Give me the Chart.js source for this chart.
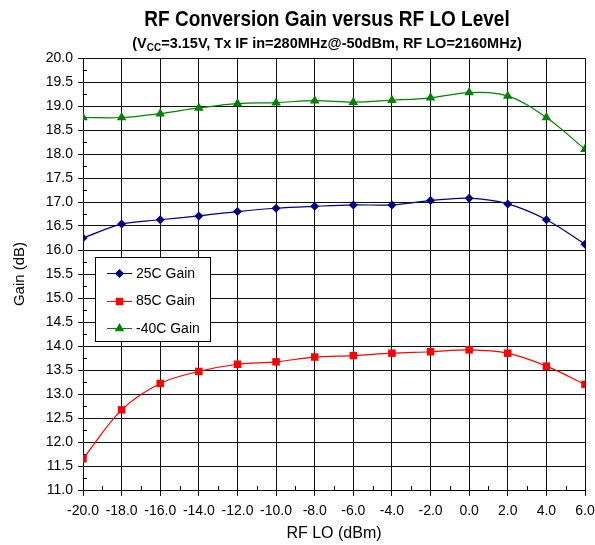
<!DOCTYPE html>
<html>
<head>
<meta charset="utf-8">
<script src="https://cdn.jsdelivr.net/npm/chart.js"></script>
<style>
  html,body{margin:0;padding:0;background:#fff;}
  #wrap{width:595px;height:545px;}
</style>
</head>
<body>
<div id="wrap"><canvas id="c" width="595" height="545"></canvas></div>
<script>
// RF conversion gain vs RF LO level, three temperatures
const rfLo = [-20, -18, -16, -14, -12, -10, -8, -6, -4, -2, 0, 2, 4, 6];
const gain25 = [16.25, 16.54, 16.63, 16.71, 16.80, 16.87, 16.91, 16.94, 16.94, 17.03, 17.08, 16.96, 16.63, 16.12];
const gain85 = [11.65, 12.67, 13.22, 13.47, 13.62, 13.67, 13.77, 13.80, 13.85, 13.88, 13.92, 13.85, 13.58, 13.20];
const gainM40 = [18.76, 18.76, 18.84, 18.96, 19.05, 19.07, 19.11, 19.08, 19.12, 19.17, 19.28, 19.21, 18.76, 18.10];
const seriesNames = ['25C Gain', '85C Gain', '-40C Gain'];
const seriesColors = ['#000080', '#ff0000', '#008000'];
const seriesMarkers = ['rectRot', 'rect', 'triangle'];
const markerRadius = [4.5, 5.3, 5.5];

const titleText = 'RF Conversion Gain versus RF LO Level';
const subPre = '(V', subSub = 'CC', subPost = '=3.15V, Tx IF in=280MHz@-50dBm, RF LO=2160MHz)';
const xTitle = 'RF LO (dBm)';
const yTitle = 'Gain (dB)';

const FONT = '"Liberation Sans", Arial, sans-serif';

function drawMarker(ctx, type, x, y, color){
  ctx.fillStyle = color;
  ctx.beginPath();
  if (type === 'rectRot'){ const r = 4.5; ctx.moveTo(x, y - r); ctx.lineTo(x + r, y); ctx.lineTo(x, y + r); ctx.lineTo(x - r, y); }
  else if (type === 'rect'){ ctx.rect(x - 3.75, y - 3.75, 7.5, 7.5); }
  else { const r = 5.5; ctx.moveTo(x, y - r); ctx.lineTo(x + r * 0.866, y + r * 0.5); ctx.lineTo(x - r * 0.866, y + r * 0.5); }
  ctx.closePath(); ctx.fill();
}

const decor = {
  id: 'decor',
  beforeDatasetsDraw(chart){
    // minor tick marks inside the plot
    const ctx = chart.ctx, xs = chart.scales.x, ys = chart.scales.y, a = chart.chartArea;
    ctx.save(); ctx.strokeStyle = '#000'; ctx.lineWidth = 1;
    ctx.beginPath();
    for (let v = -19; v < 6; v += 2){ const px = Math.round(xs.getPixelForValue(v)) + 0.5; ctx.moveTo(px, a.bottom); ctx.lineTo(px, a.bottom - 4); }
    for (let v = 11.25; v < 20; v += 0.5){ const py = Math.round(ys.getPixelForValue(v)) + 0.5; ctx.moveTo(a.left, py); ctx.lineTo(a.left + 4, py); }
    ctx.stroke(); ctx.restore();
  },
  afterDraw(chart){
    const ctx = chart.ctx, a = chart.chartArea;
    const cx = 327;
    ctx.save();
    ctx.fillStyle = '#000';
    ctx.textBaseline = 'alphabetic';

    // title
    ctx.font = 'bold 19px ' + FONT; ctx.textAlign = 'center';
    ctx.save(); ctx.translate(cx, 26); ctx.scale(1, 1.15); ctx.fillText(titleText, 0, 0); ctx.restore();

    // subtitle with subscript
    ctx.textAlign = 'left';
    const fMain = 'bold 14.5px ' + FONT, fSub = 'bold 10px ' + FONT;
    ctx.font = fMain; const w1 = ctx.measureText(subPre).width, w3 = ctx.measureText(subPost).width;
    ctx.font = fSub; const w2 = ctx.measureText(subSub).width;
    let sx = cx - (w1 + w2 + w3) / 2;
    ctx.save(); ctx.translate(0, 48); ctx.scale(1, 1.05);
    ctx.font = fMain; ctx.fillText(subPre, sx, 0); sx += w1;
    ctx.font = fSub; ctx.fillText(subSub, sx, 2.5); sx += w2;
    ctx.font = fMain; ctx.fillText(subPost, sx, 0);
    ctx.restore();

    // axis titles
    ctx.font = '16px ' + FONT; ctx.textAlign = 'center'; ctx.textBaseline = 'middle';
    ctx.fillText(xTitle, (a.left + a.right) / 2, 534);
    ctx.save(); ctx.translate(20, 274); ctx.rotate(-Math.PI / 2); ctx.font = '15px ' + FONT; ctx.fillText(yTitle, 0, 0); ctx.restore();

    // legend box
    const lx = 95.5, ly = 257.5, lw = 115, lh = 84;
    ctx.fillStyle = '#fff'; ctx.fillRect(lx, ly, lw, lh);
    ctx.strokeStyle = '#000'; ctx.lineWidth = 1; ctx.strokeRect(lx, ly, lw, lh);
    ctx.font = '14px ' + FONT; ctx.textAlign = 'left'; ctx.textBaseline = 'middle';
    seriesNames.forEach((name, i) => {
      const y = 273 + i * 27.5;
      ctx.strokeStyle = seriesColors[i]; ctx.lineWidth = 1;
      ctx.beginPath(); ctx.moveTo(107, Math.round(y) + 0.5); ctx.lineTo(132, Math.round(y) + 0.5); ctx.stroke();
      drawMarker(ctx, seriesMarkers[i], 119.5, Math.round(y) + 0.5, seriesColors[i]);
      ctx.fillStyle = '#000'; ctx.fillText(name, 136, y + 1);
    });
    ctx.restore();
  }
};

const seriesData = [gain25, gain85, gainM40];
const datasets = seriesData.map((vals, i) => ({
  label: seriesNames[i],
  data: rfLo.map((x, j) => ({ x: x, y: vals[j] })),
  borderColor: seriesColors[i],
  backgroundColor: seriesColors[i],
  borderWidth: 1.2,
  pointStyle: seriesMarkers[i],
  pointRadius: markerRadius[i],
  pointBorderWidth: 0,
  pointBackgroundColor: seriesColors[i],
  tension: 0.35,
  fill: false
}));

new Chart(document.getElementById('c').getContext('2d'), {
  type: 'line',
  data: { datasets: datasets },
  plugins: [decor],
  options: {
    responsive: false, animation: false,
    layout: { padding: { top: 58, right: 10, bottom: 0, left: 0 } },
    plugins: { legend: { display: false }, title: { display: false }, tooltip: { enabled: false } },
    scales: {
      x: {
        type: 'linear', min: -20, max: 6,
        afterFit(s){ s.height = 55; s.paddingLeft = 0; s.paddingRight = 0; },
        ticks: { stepSize: 2, padding: 7, color: '#000', font: { family: FONT, size: 14 }, callback: v => Number(v).toFixed(1), maxRotation: 0 },
        grid: { color: '#111', lineWidth: 1, tickLength: 6 },
        border: { color: '#000', width: 1 }
      },
      y: {
        min: 11, max: 20,
        afterFit(s){ s.width = 83; s.paddingTop = 0; s.paddingBottom = 0; },
        ticks: { stepSize: 0.5, padding: 5, color: '#000', font: { family: FONT, size: 14 }, callback: v => Number(v).toFixed(1) },
        grid: { color: '#111', lineWidth: 1, tickLength: 5 },
        border: { color: '#000', width: 1 }
      }
    }
  }
});
</script>
</body>
</html>
